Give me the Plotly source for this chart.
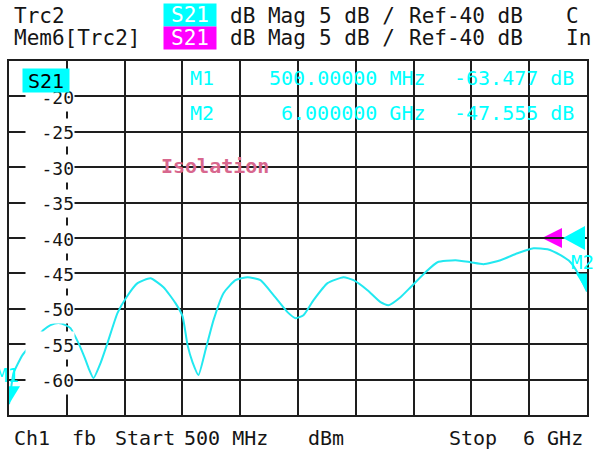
import plotly.graph_objects as go

# ---------------- data ----------------
freq_ghz = [0.500, 0.524, 0.543, 0.628, 0.724, 0.828, 0.895, 0.971, 1.038, 1.085,
            1.161, 1.218, 1.257, 1.304, 1.371, 1.437, 1.532, 1.618, 1.723, 1.846,
            1.970, 2.084, 2.151, 2.199, 2.246, 2.303, 2.370, 2.446, 2.541, 2.655,
            2.770, 2.893, 3.017, 3.150, 3.226, 3.302, 3.398, 3.531, 3.683, 3.778,
            3.911, 4.035, 4.111, 4.225, 4.321, 4.463, 4.577, 4.749, 4.891, 5.015,
            5.177, 5.339, 5.491, 5.624, 5.748, 5.843, 5.919, 6.000]
s21_db = [-63.48, -60.77, -59.08, -56.54, -54.84, -53.01, -52.31, -52.02, -52.31, -52.73,
          -54.84, -56.82, -58.37, -59.78, -57.67, -54.84, -50.61, -48.36, -46.38, -45.68,
          -46.95, -49.20, -51.04, -55.13, -57.52, -59.36, -55.83, -51.60, -47.79, -45.96,
          -45.54, -45.96, -48.07, -50.47, -51.32, -50.90, -48.78, -46.38, -45.54, -45.96,
          -47.37, -49.06, -49.49, -48.36, -46.95, -44.83, -43.42, -43.14, -43.42, -43.70,
          -43.14, -42.15, -41.45, -41.59, -42.43, -43.42, -45.11, -47.56]

y_tick_values = [-20, -25, -30, -35, -40, -45, -50, -55, -60]
y_tick_labels = ["-20", "-25", "-30", "-35", "-40", "-45", "-50", "-55", "-60"]

marker_names = ["M1", "M2"]
marker_freq_ghz = [0.5, 6.0]
marker_freq_text = ["500.00000 MHz", "6.000000 GHz"]
marker_db = [-63.477, -47.555]
marker_db_text = ["-63.477 dB", "-47.555 dB"]

ref_level_db = -40
start_ghz, stop_ghz = 0.5, 6.0
y_min, y_max = -65, -15

header_rows = [
    ["Trc2", "S21", "dB Mag", "5 dB /", "Ref-40 dB", "C"],
    ["Mem6[Trc2]", "S21", "dB Mag", "5 dB /", "Ref-40 dB", "In"],
]
footer_words = ["Ch1", "fb", "Start", "500 MHz", "dBm", "Stop", "6 GHz"]
trace_title = "Isolation"

# ---------------- layout helpers ----------------
W, H = 597, 451
L, R, T, B = 9, 10, 61, 36
PW, PH = W - L - R, H - T - B
MONO = "DejaVu Sans Mono"
CYAN = "#00ffff"
TRACE = "#22e8f0"
MAGENTA = "#ff00ff"
GRID = "#1e1e1e"
INK = "#151515"


def px(x):
    return (x - L) / PW


def py(y):
    return 1 - (y - T) / PH


def ann(text, x, y, xanchor="left", yanchor="middle", size=20, color=INK, **kw):
    d = dict(text=text, xref="paper", yref="paper", x=px(x), y=py(y),
             xanchor=xanchor, yanchor=yanchor, showarrow=False,
             font=dict(family=MONO, size=size, color=color))
    d.update(kw)
    return d


fig = go.Figure()
fig.add_trace(go.Scatter(x=freq_ghz, y=s21_db, mode="lines",
                         line=dict(color=TRACE, width=2, shape="spline", smoothing=0.5),
                         hoverinfo="skip", showlegend=False))

annotations = []

# header
hdr_x = [12, None, 228, 317, 407, 564]
hdr_y = [16, 38.5]
box_top = [2.5, 26]
box_col = [CYAN, MAGENTA]
for r, row in enumerate(header_rows):
    for c, word in enumerate(row):
        if c == 1:
            annotations.append(ann(word, 163, box_top[r], yanchor="top", size=21,
                                   color="white", bgcolor=box_col[r], width=52,
                                   height=22, borderpad=0, align="center"))
        else:
            annotations.append(ann(word, hdr_x[c], hdr_y[r], size=21))

# y tick labels with white background
for v, lab in zip(y_tick_values, y_tick_labels):
    annotations.append(dict(text=lab, xref="paper", yref="y", x=px(75), y=v,
                            xanchor="right", yanchor="middle", showarrow=False,
                            font=dict(family=MONO, size=18, color=INK),
                            bgcolor="white", width=48, height=27, borderpad=0,
                            align="right", yshift=-1))

# S21 label box in the grid (drawn after the tick labels, so on top)
annotations.append(ann("S21", 22, 68, yanchor="top", size=20, color="black",
                       bgcolor=CYAN, width=46, height=23, borderpad=0, align="center"))

# marker readout
read_y = [78, 113]
for i in range(len(marker_names)):
    annotations.append(ann(marker_names[i], 188, read_y[i], color=CYAN))
    annotations.append(ann(marker_freq_text[i], 428, read_y[i], xanchor="right", color=CYAN))
    annotations.append(ann(marker_db_text[i], 576, read_y[i], xanchor="right", color=CYAN))

# marker labels near markers (partly cut by the edges, as in the original)
annotations.append(ann("M1", 21, 375, xanchor="right", size=19, color=CYAN))
annotations.append(ann("M2", 569, 262, size=19, color=CYAN))

# trace title
annotations.append(ann("<b>" + trace_title + "</b>", 215, 166, xanchor="center",
                       size=20, color="#d8678e"))

# footer
foot_x = [12, 70, 113, 182, 306, 447, 585]
for i, w in enumerate(footer_words):
    if i == len(footer_words) - 1:
        annotations.append(ann(w, foot_x[i], 438, xanchor="right"))
    else:
        annotations.append(ann(w, foot_x[i], 438))

shapes = []
# marker triangles (tip on the data point)
for f, v in zip(marker_freq_ghz, marker_db):
    shapes.append(dict(type="path", xref="x", yref="y", xsizemode="pixel", ysizemode="pixel",
                       xanchor=f, yanchor=v, path="M0,0 L-11,18 L11,18 Z",
                       fillcolor=CYAN, line=dict(width=0), layer="above"))
# reference level triangles at the right edge
shapes.append(dict(type="path", xref="x domain", yref="y", xsizemode="pixel", ysizemode="pixel",
                   xanchor=1, yanchor=ref_level_db, path="M-45,0 L-25,10 L-25,-10 Z",
                   fillcolor=MAGENTA, line=dict(width=0), layer="below"))
shapes.append(dict(type="path", xref="x domain", yref="y", xsizemode="pixel", ysizemode="pixel",
                   xanchor=1, yanchor=ref_level_db, path="M-24,0 L-2,12 L-2,-12 Z",
                   fillcolor=CYAN, line=dict(width=0), layer="above"))

fig.update_layout(
    width=W, height=H,
    margin=dict(l=L, r=R, t=T, b=B, pad=0),
    paper_bgcolor="white", plot_bgcolor="white",
    showlegend=False,
    annotations=annotations,
    shapes=shapes,
    xaxis=dict(range=[start_ghz, stop_ghz], tick0=start_ghz, dtick=(stop_ghz - start_ghz) / 10,
               showgrid=True, gridcolor=GRID, gridwidth=2, zeroline=False,
               showticklabels=False, ticks="", showline=True, mirror=True,
               linecolor=GRID, linewidth=2, fixedrange=True),
    yaxis=dict(range=[y_min, y_max], tick0=y_min, dtick=5,
               showgrid=True, gridcolor=GRID, gridwidth=2, zeroline=False,
               showticklabels=False, ticks="", showline=True, mirror=True,
               linecolor=GRID, linewidth=2, fixedrange=True),
)

fig.write_html("out.html", config={"displayModeBar": False},
               post_script="document.body.style.margin='0';document.body.style.overflow='hidden';")
